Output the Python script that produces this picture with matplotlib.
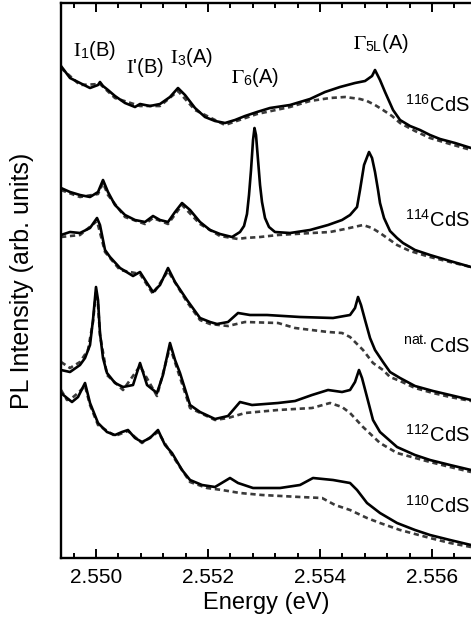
import matplotlib
matplotlib.use("Agg")
import matplotlib.pyplot as plt
from matplotlib.ticker import MultipleLocator

plt.rcParams["font.family"] = ["Liberation Sans", "DejaVu Sans"]
plt.rcParams["mathtext.fontset"] = "stix"

# PL spectra, energy in eV, intensity in arb. units (stacked with offsets)
e_116 = [2.549375, 2.549536, 2.549714, 2.549893, 2.550036, 2.550071, 2.550125, 2.550214, 2.550339, 2.550518,
         2.550696, 2.550786, 2.550964, 2.551143, 2.551321, 2.551464, 2.551589, 2.551768, 2.551946, 2.552125,
         2.552304, 2.552482, 2.552661, 2.552875, 2.553107, 2.553464, 2.553821, 2.554089, 2.554357, 2.554625,
         2.554804, 2.554929, 2.554982, 2.555071, 2.555161, 2.555304, 2.555429, 2.555607, 2.555786, 2.555964,
         2.556143, 2.556411, 2.556696]
i_116 = [4.92, 4.80, 4.75, 4.70, 4.73, 4.76, 4.72, 4.68, 4.62, 4.55,
         4.51, 4.54, 4.52, 4.54, 4.61, 4.70, 4.63, 4.50, 4.41, 4.37,
         4.35, 4.38, 4.42, 4.46, 4.50, 4.53, 4.59, 4.66, 4.71, 4.75,
         4.77, 4.82, 4.88, 4.78, 4.66, 4.48, 4.38, 4.32, 4.28, 4.23,
         4.19, 4.15, 4.10]
e_116d = [2.549375, 2.549714, 2.550071, 2.550339, 2.550786, 2.551143, 2.551464, 2.551768, 2.552304, 2.552875,
          2.553464, 2.553821, 2.554179, 2.554446, 2.554714, 2.554839, 2.554982, 2.555125, 2.555286, 2.555429,
          2.555696, 2.555964, 2.556321, 2.556696]
i_116d = [4.90, 4.73, 4.74, 4.60, 4.52, 4.52, 4.67, 4.48, 4.33, 4.44,
          4.51, 4.57, 4.60, 4.61, 4.59, 4.57, 4.53, 4.48, 4.42, 4.35,
          4.27, 4.20, 4.14, 4.08]

e_114 = [2.549375, 2.549536, 2.549714, 2.549893, 2.550036, 2.550125, 2.550214, 2.550339, 2.550518, 2.550696,
         2.550875, 2.551018, 2.551143, 2.551286, 2.551411, 2.551536, 2.551679, 2.551857, 2.552036, 2.552214,
         2.552429, 2.552571, 2.552643, 2.552696, 2.552732, 2.552768, 2.552804, 2.552830, 2.552857, 2.552893,
         2.552929, 2.552964, 2.553018, 2.553089, 2.553196, 2.553464, 2.553821, 2.554143, 2.554393, 2.554536,
         2.554661, 2.554714, 2.554786, 2.554875, 2.554929, 2.554982, 2.555036, 2.555071, 2.555143, 2.555250,
         2.555375, 2.555482, 2.555696, 2.555964, 2.556321, 2.556696]
i_114 = [3.70, 3.66, 3.63, 3.61, 3.66, 3.78, 3.66, 3.53, 3.43, 3.38,
         3.36, 3.42, 3.38, 3.36, 3.46, 3.55, 3.48, 3.36, 3.28, 3.24,
         3.21, 3.26, 3.32, 3.44, 3.63, 3.88, 4.18, 4.30, 4.23, 3.98,
         3.73, 3.56, 3.40, 3.31, 3.26, 3.25, 3.28, 3.33, 3.38, 3.43,
         3.51, 3.68, 3.93, 4.06, 4.00, 3.86, 3.68, 3.55, 3.40, 3.27,
         3.20, 3.15, 3.08, 3.03, 2.97, 2.91]
e_114d = [2.549375, 2.549714, 2.550036, 2.550125, 2.550214, 2.550518, 2.550875, 2.551018, 2.551286, 2.551536,
          2.551857, 2.552214, 2.552536, 2.552661, 2.552929, 2.553250, 2.553554, 2.553857, 2.554179, 2.554446,
          2.554768, 2.554929, 2.555071, 2.555250, 2.555375, 2.555607, 2.555964, 2.556321, 2.556696]
i_114d = [3.68, 3.61, 3.64, 3.75, 3.63, 3.41, 3.34, 3.40, 3.34, 3.53,
          3.34, 3.22, 3.19, 3.20, 3.21, 3.23, 3.24, 3.25, 3.26, 3.29,
          3.33, 3.30, 3.25, 3.18, 3.13, 3.07, 3.01, 2.96, 2.91]

e_nat = [2.549375, 2.549536, 2.549714, 2.549893, 2.550018, 2.550071, 2.550161, 2.550250, 2.550429, 2.550661,
         2.550786, 2.550911, 2.551018, 2.551143, 2.551286, 2.551411, 2.551625, 2.551857, 2.552036, 2.552161,
         2.552357, 2.552536, 2.552750, 2.553054, 2.553643, 2.554232, 2.554536, 2.554625, 2.554679, 2.554732,
         2.554804, 2.554893, 2.554982, 2.555125, 2.555250, 2.555429, 2.555696, 2.556018, 2.556321, 2.556696]
i_nat = [3.23, 3.26, 3.25, 3.30, 3.40, 3.33, 3.08, 3.01, 2.90, 2.82,
         2.86, 2.75, 2.66, 2.73, 2.90, 2.76, 2.58, 2.40, 2.36, 2.34,
         2.36, 2.45, 2.43, 2.43, 2.41, 2.40, 2.43, 2.50, 2.61, 2.53,
         2.38, 2.20, 2.08, 1.96, 1.86, 1.80, 1.72, 1.67, 1.63, 1.58]
e_natd = [2.549375, 2.549714, 2.550018, 2.550161, 2.550429, 2.550786, 2.551018, 2.551286, 2.551625, 2.551857,
          2.552036, 2.552357, 2.552661, 2.553250, 2.553554, 2.554143, 2.554393, 2.554536, 2.554768, 2.554946,
          2.555125, 2.555250, 2.555429, 2.555696, 2.556018, 2.556321, 2.556696]
i_natd = [3.21, 3.23, 3.37, 3.06, 2.88, 2.84, 2.64, 2.87, 2.56, 2.38,
          2.34, 2.32, 2.36, 2.35, 2.30, 2.26, 2.25, 2.21, 2.08, 1.95,
          1.88, 1.81, 1.77, 1.70, 1.65, 1.61, 1.57]

e_112 = [2.549375, 2.549536, 2.549714, 2.549804, 2.549893, 2.549946, 2.550000, 2.550036, 2.550071, 2.550125,
         2.550196, 2.550339, 2.550482, 2.550661, 2.550786, 2.550911, 2.551089, 2.551196, 2.551321, 2.551411,
         2.551500, 2.551679, 2.551857, 2.552125, 2.552357, 2.552571, 2.552786, 2.553250, 2.553554, 2.553857,
         2.554143, 2.554393, 2.554536, 2.554625, 2.554696, 2.554750, 2.554839, 2.554946, 2.555071, 2.555375,
         2.555696, 2.555964, 2.556321, 2.556696]
i_112 = [1.88, 1.86, 1.93, 2.00, 2.13, 2.38, 2.71, 2.58, 2.25, 2.00,
         1.85, 1.75, 1.71, 1.73, 1.95, 1.73, 1.65, 1.83, 2.15, 1.98,
         1.85, 1.53, 1.46, 1.39, 1.42, 1.56, 1.53, 1.55, 1.57, 1.63,
         1.68, 1.66, 1.68, 1.76, 1.88, 1.80, 1.61, 1.38, 1.26, 1.11,
         1.03, 0.98, 0.93, 0.88]
e_112d = [2.549375, 2.549536, 2.549714, 2.549857, 2.549946, 2.550000, 2.550036, 2.550071, 2.550196, 2.550482,
          2.550786, 2.551089, 2.551321, 2.551679, 2.552125, 2.552357, 2.552661, 2.553250, 2.553857, 2.554179,
          2.554393, 2.554536, 2.554768, 2.555071, 2.555375, 2.555964, 2.556321, 2.556696]
i_112d = [1.96, 1.90, 1.96, 2.08, 2.36, 2.66, 2.53, 2.23, 1.83, 1.68,
          1.92, 1.62, 2.11, 1.50, 1.38, 1.40, 1.45, 1.48, 1.50, 1.55,
          1.51, 1.45, 1.31, 1.15, 1.05, 0.96, 0.91, 0.86]

e_110 = [2.549375, 2.549482, 2.549571, 2.549679, 2.549804, 2.549893, 2.550036, 2.550196, 2.550339, 2.550464,
         2.550571, 2.550696, 2.550821, 2.550964, 2.551107, 2.551232, 2.551357, 2.551536, 2.551679, 2.551893,
         2.552125, 2.552393, 2.552536, 2.552804, 2.553286, 2.553643, 2.553875, 2.554232, 2.554536, 2.554661,
         2.554839, 2.555071, 2.555375, 2.555696, 2.555964, 2.556321, 2.556696]
i_110 = [1.65, 1.60, 1.56, 1.61, 1.75, 1.55, 1.35, 1.26, 1.23, 1.26,
         1.28, 1.20, 1.16, 1.20, 1.28, 1.13, 1.05, 0.88, 0.78, 0.73,
         0.71, 0.80, 0.75, 0.70, 0.70, 0.73, 0.80, 0.78, 0.75, 0.68,
         0.55, 0.45, 0.35, 0.28, 0.23, 0.18, 0.13]
e_110d = [2.549375, 2.549482, 2.549571, 2.549679, 2.549804, 2.549893, 2.550036, 2.550339, 2.550571, 2.550821,
          2.551107, 2.551357, 2.551679, 2.551982, 2.552250, 2.552571, 2.552964, 2.553643, 2.554036, 2.554268,
          2.554536, 2.554839, 2.555071, 2.555429, 2.555964, 2.556321, 2.556696]
i_110d = [1.68, 1.58, 1.60, 1.65, 1.72, 1.53, 1.33, 1.22, 1.27, 1.15,
          1.26, 1.03, 0.76, 0.70, 0.68, 0.65, 0.63, 0.61, 0.60, 0.53,
          0.48, 0.40, 0.35, 0.28, 0.20, 0.15, 0.11]

solid = [(e_116, i_116), (e_114, i_114), (e_nat, i_nat), (e_112, i_112), (e_110, i_110)]
dashed = [(e_116d, i_116d), (e_114d, i_114d), (e_natd, i_natd), (e_112d, i_112d), (e_110d, i_110d)]

sample_labels = [r"$^{\mathdefault{116}}$CdS", r"$^{\mathdefault{114}}$CdS", r"$^{\mathdefault{nat.}}$CdS",
                 r"$^{\mathdefault{112}}$CdS", r"$^{\mathdefault{110}}$CdS"]
sample_label_y = [4.46, 3.31, 2.06, 1.16, 0.45]

peak_labels = [r"$\mathrm{I}_{\mathdefault{1}}$(B)", r"$\mathrm{I}$'(B)", r"$\mathrm{I}_{\mathdefault{3}}$(A)",
               r"$\Gamma_{\mathdefault{6}}$(A)", r"$\Gamma_{\mathdefault{5L}}$(A)"]
peak_label_x = [2.549589, 2.550536, 2.551321, 2.552411, 2.554589]
peak_label_y = [5.02, 4.85, 4.95, 4.75, 5.09]

fig = plt.figure(figsize=(4.71, 6.27), dpi=100)
ax = fig.add_axes([61 / 471, 69 / 627, 410 / 471, 555 / 627])

for e, i in dashed:
    ax.plot(e, i, color="#3a3a3a", lw=1.9, ls=(0, (2.0, 1.4)))
for e, i in solid:
    ax.plot(e, i, color="black", lw=1.9)

for txt, y in zip(sample_labels, sample_label_y):
    ax.text(2.556680, y, txt, ha="right", va="baseline", fontsize=14.5)
for txt, x, y in zip(peak_labels, peak_label_x, peak_label_y):
    ax.text(x, y, txt, ha="left", va="baseline", fontsize=14.5)

ax.set_xlim(2.549375, 2.556696)
ax.set_ylim(0, 5.55)
ax.xaxis.set_major_locator(MultipleLocator(0.002))
ax.xaxis.set_minor_locator(MultipleLocator(0.0004))
ax.xaxis.set_major_formatter(plt.FormatStrFormatter("%.3f"))
ax.set_yticks([])
ax.tick_params(axis="x", which="both", direction="in", top=True, width=1.4, labelsize=15, pad=7)
ax.tick_params(axis="x", which="major", length=6.5)
ax.tick_params(axis="x", which="minor", length=3.6)
for side in ["left", "bottom", "top"]:
    ax.spines[side].set_linewidth(1.7)
ax.spines["right"].set_visible(False)

ax.set_xlabel("Energy (eV)", fontsize=17, labelpad=4)
ax.set_ylabel("PL Intensity (arb. units)", fontsize=18)
ax.yaxis.set_label_coords(-0.066, 0.5)

fig.savefig("out.png", dpi=100)
